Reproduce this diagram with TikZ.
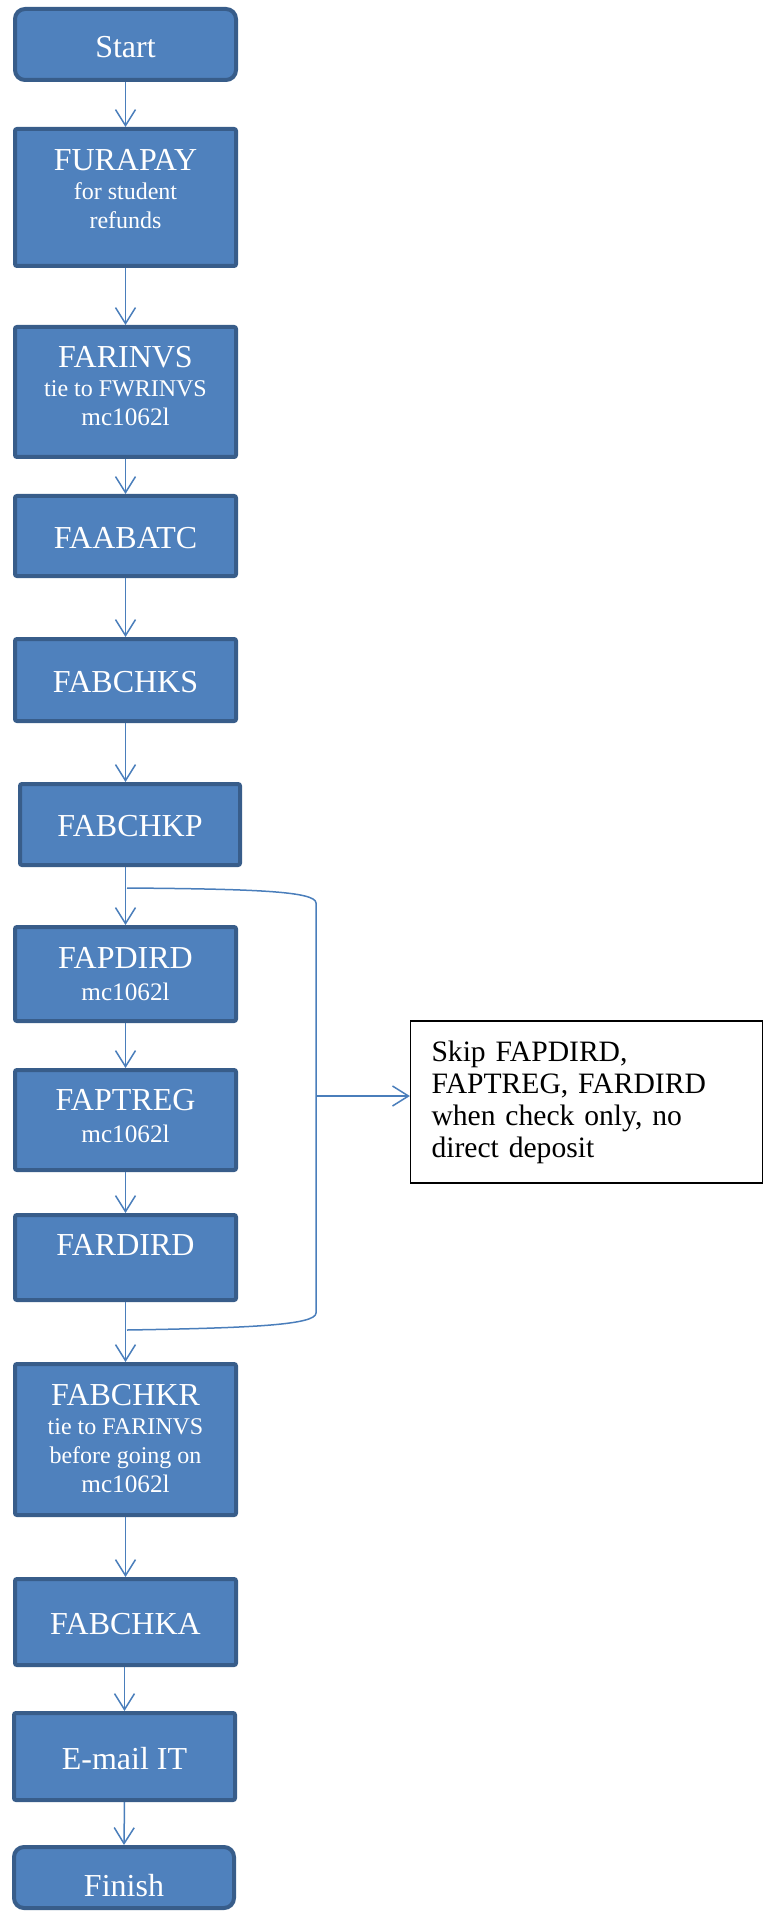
\documentclass[tikz,border=0pt]{standalone}
\usepackage{fontspec}
\setmainfont{Liberation Serif}
\usetikzlibrary{arrows.meta}
\definecolor{boxfill}{HTML}{4F81BD}
\definecolor{boxline}{HTML}{385D8A}
\definecolor{arrcol}{HTML}{4A7EBB}
\newcommand{\ttlfont}{\fontsize{16}{19}\selectfont}
\newcommand{\mcfont}{\fontsize{12.6}{15}\selectfont}
\tikzset{
  procbox/.style={draw=boxline, fill=boxfill, line width=2pt, minimum width=110.5pt, rounded corners=1pt, inner sep=0pt},
  termbox/.style={procbox, rounded corners=5pt},
  ttl/.style={anchor=north, text=white, align=center, inner sep=0pt, font=\fontsize{12}{14.5}\selectfont},
  arr/.style={draw=arrcol, line width=0.75pt, -{Straight Barb[length=8pt,width=10pt]}},
  brk/.style={draw=arrcol, line width=0.75pt},
  notebox/.style={draw=black, line width=0.6pt, fill=white, text width=155pt, inner xsep=10.5pt, minimum height=81pt, align=left, font=\fontsize{14.8}{16}\selectfont},
}
\begin{document}
\begin{tikzpicture}[x=0.5pt, y=-0.5pt]
\useasboundingbox (0,0) rectangle (765,1914);
% boxes
\node[termbox, minimum height=35.5pt] (start) at (125.5,44.5) {};
\node[procbox, minimum height=68.5pt] (furapay) at (125.5,197.5) {};
\node[procbox, minimum height=65pt] (farinvs) at (125.5,392) {};
\node[procbox, minimum height=40pt] (faabatc) at (125.5,536) {};
\node[procbox, minimum height=41pt] (fabchks) at (125.5,680) {};
\node[procbox, minimum height=40.5pt, minimum width=110pt] (fabchkp) at (130,824.5) {};
\node[procbox, minimum height=47pt] (fapdird) at (125.5,974) {};
\node[procbox, minimum height=50pt] (faptreg) at (125.5,1120) {};
\node[procbox, minimum height=42.5pt] (fardird) at (125.5,1257.5) {};
\node[procbox, minimum height=75.5pt] (fabchkr) at (125.5,1439.5) {};
\node[procbox, minimum height=43pt] (fabchka) at (125.5,1622) {};
\node[procbox, minimum height=43.5pt] (email) at (124.5,1756.5) {};
\node[termbox, minimum height=30.5pt, minimum width=110pt] (finish) at (124,1877.5) {};
% texts
\node[ttl] (startT) at (125.5,35.8) {{\ttlfont Start}};
\node[ttl] (furapayT) at (125.5,148.5) {{\ttlfont FURAPAY}\\for student\\refunds};
\node[ttl] (farinvsT) at (125.5,345.8) {{\ttlfont FARINVS}\\tie to FWRINVS\\{\mcfont mc1062l}};
\node[ttl] (faabatcT) at (125.5,526.8) {{\ttlfont FAABATC}};
\node[ttl] (fabchksT) at (125.5,670.8) {{\ttlfont FABCHKS}};
\node[ttl] (fabchkpT) at (130,815.2) {{\ttlfont FABCHKP}};
\node[ttl] (fapdirdT) at (125.5,946.8) {{\ttlfont FAPDIRD}\\[1.5pt]{\mcfont mc1062l}};
\node[ttl] (faptregT) at (125.5,1089.2) {{\ttlfont FAPTREG}\\[1.5pt]{\mcfont mc1062l}};
\node[ttl] (fardirdT) at (125.5,1233.5) {{\ttlfont FARDIRD}};
\node[ttl] (fabchkrT) at (125.5,1383.5) {{\ttlfont FABCHKR}\\tie to FARINVS\\before going on\\{\mcfont mc1062l}};
\node[ttl] (fabchkaT) at (125.5,1612.5) {{\ttlfont FABCHKA}};
\node[ttl] (emailT) at (124.5,1746.8) {{\ttlfont E-mail IT}};
\node[ttl] (finishT) at (124,1873.5) {{\ttlfont Finish}};
% note
\node[notebox] (note) at (586.5,1102) {Skip FAPDIRD,\\FAPTREG, FARDIRD\\when check only, no\\direct deposit};
% arrows
\draw[arr] (start.south) -- (furapay.north);
\draw[arr] (furapay.south) -- (farinvs.north);
\draw[arr] (farinvs.south) -- (faabatc.north);
\draw[arr] (faabatc.south) -- (fabchks.north);
\draw[arr] (fabchks.south) -- (fabchks.south |- fabchkp.north);
\draw[arr] (fapdird.north |- fabchkp.south) -- (fapdird.north);
\draw[arr] (fapdird.south) -- (faptreg.north);
\draw[arr] (faptreg.south) -- (fardird.north);
\draw[arr] (fardird.south) -- (fabchkr.north);
\draw[arr] (fabchkr.south) -- (fabchka.north);
\draw[arr] (email.north |- fabchka.south) -- (email.north);
\draw[arr] (email.south) -- (finish.north);
% bracket
\coordinate (bt) at (127,888);
\coordinate (bb) at (127,1330);
\coordinate (bm) at (316,1096);
\draw[brk] (bt) .. controls (250,889) and (316,891) .. (316,903) -- (316,1313) .. controls (316,1325) and (250,1328) .. (bb);
\draw[arr] (bm) -- (bm -| note.west);
\end{tikzpicture}
\end{document}
